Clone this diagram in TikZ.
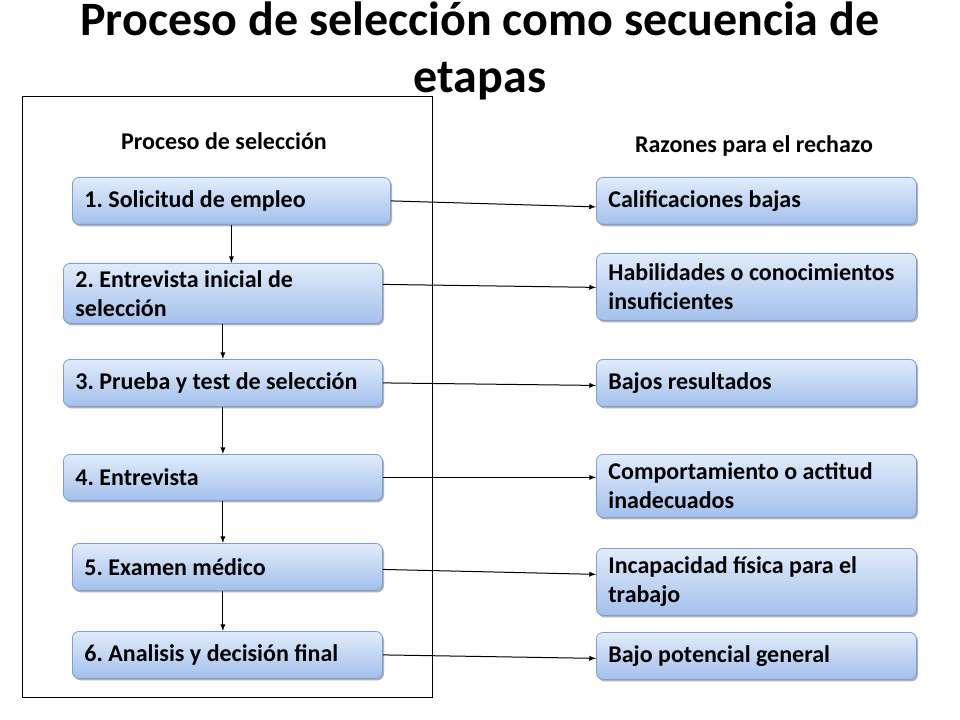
\documentclass[tikz,border=0pt]{standalone}
\usepackage{fontspec}
\setmainfont{Carlito}
\frenchspacing
\usepackage{tikz}
\usetikzlibrary{shadows}
\definecolor{boxtop}{RGB}{225, 236, 251}
\definecolor{boxbottom}{RGB}{163, 192, 236}
\definecolor{boxline}{RGB}{124, 159, 214}

\begin{document}
\begin{tikzpicture}[
    x=0.75pt, y=-0.75pt,
    box/.style={rectangle, rounded corners=5pt, draw=boxline, line width=0.6pt, top color=boxtop, bottom color=boxbottom, anchor=north west, inner xsep=9pt, align=flush left, font=\fontsize{18}{21.75}\selectfont\bfseries, drop shadow={shadow xshift=1.2pt, shadow yshift=-1.5pt, opacity=0.3, fill=black}},
    stagebox/.style={box, text width=221.25pt},
    reasonbox/.style={box, text width=222pt},
    head/.style={font=\fontsize{18}{21}\selectfont\bfseries},
    arrow/.style={->, line width=0.75pt, >=latex}
]
    \useasboundingbox (0,0) rectangle (960,720);

    % title and frame
    \node[anchor=north, align=flush center, text width=900pt, font=\fontsize{36}{43}\selectfont\bfseries] (title) at (480,-3) {Proceso de selección como secuencia de\\etapas};
    \draw[line width=0.75pt] (22,97) rectangle (432,697);
    \node[head] (lhead) at (224,141) {Proceso de selección};
    \node[head] (rhead) at (754,146) {Razones para el rechazo};

    % stages
    \node[stagebox, text width=220.5pt, minimum height=35.25pt] (s1) at (72,177) {1. Solicitud de empleo};
    \node[stagebox, minimum height=45pt] (s2) at (63,263) {2. Entrevista inicial de\\selección};
    \node[stagebox, minimum height=35.25pt] (s3) at (63,359) {3. Prueba y test de selección};
    \node[stagebox, minimum height=34.5pt] (s4) at (63,454) {4. Entrevista};
    \node[stagebox, text width=214.5pt, minimum height=35.25pt] (s5) at (72,543) {5. Examen médico};
    \node[stagebox, text width=214.5pt, minimum height=35.25pt] (s6) at (72,631) {6. Analisis y decisión final};

    % reasons
    \node[reasonbox, minimum height=35.25pt] (r1) at (596,177) {Calificaciones bajas};
    \node[reasonbox, minimum height=50.25pt] (r2) at (596,253) {Habilidades o conocimientos\\insuficientes};
    \node[reasonbox, minimum height=35.25pt] (r3) at (596,359) {Bajos resultados};
    \node[reasonbox, minimum height=47.25pt] (r4) at (596,454) {Comportamiento o actitud\\inadecuados};
    \node[reasonbox, minimum height=50.25pt] (r5) at (596,548) {Incapacidad física para el\\trabajo};
    \node[reasonbox, minimum height=35.25pt] (r6) at (596,632) {Bajo potencial general};

    \draw[arrow] (s1.south) -- (s1.south |- s2.north);
    \draw[arrow] (s2) -- (s3);
    \draw[arrow] (s3) -- (s4);
    \draw[arrow] (s4) -- (s5.north -| s4.south);
    \draw[arrow] (s5.south -| s4.south) -- (s6.north -| s4.south);

    \draw[arrow] (s1.east) -- ([yshift=-4.5pt]s1.east -| r1.west);
    \draw[arrow] ([yshift=6.75pt]s2.east) -- ([yshift=4.5pt]s2.east -| r2.west);
    \draw[arrow] (s3.east) -- ([yshift=-1.9pt]s3.east -| r3.west);
    \draw[arrow] (s4.east) -- (s4.east -| r4.west);
    \draw[arrow] ([yshift=-1.9pt]s5.east) -- ([yshift=-5.6pt]s5.east -| r5.west);
    \draw[arrow] (s6.east) -- ([yshift=-2.6pt]s6.east -| r6.west);
\end{tikzpicture}
\end{document}
